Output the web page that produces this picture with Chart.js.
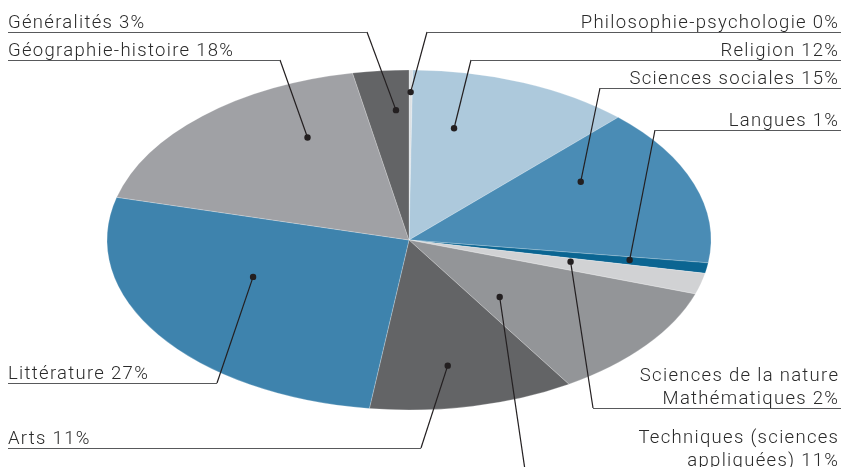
<!DOCTYPE html>
<html lang="fr">
<head>
<meta charset="utf-8">
<title>Répartition des collections</title>
<script src="https://cdn.jsdelivr.net/npm/chart.js@4/dist/chart.umd.min.js"></script>
<style>
  html, body { margin: 0; padding: 0; background: #fff; }
  #wrap { width: 841px; height: 467px; position: relative; }
</style>
</head>
<body>
<div id="wrap"><canvas id="camembert"></canvas></div>
<script>
"use strict"

// données
const categories = [
    ["Philosophie-psychologie"],
    ["Religion"],
    ["Sciences sociales"],
    ["Langues"],
    ["Sciences de la nature", "Mathématiques"],
    ["Techniques (sciences", "appliquées)"],
    ["Arts"],
    ["Littérature"],
    ["Géographie-histoire"],
    ["Généralités"]
];
const shares = [0.2, 12, 15, 1, 2, 11, 11, 27, 18, 3]; // en %
const colors = ["#dde1e4", "#adc9dc", "#4a8cb5", "#0b6592", "#d1d2d4", "#939598", "#636466", "#3e83ad", "#a0a1a5", "#636466"];

// mise en page des étiquettes (t = position dans la part, r = fraction du rayon)
const callouts = [
    { t: 0.5,  r: 0.87,  side: "right", elbowX: 427, lineY: 32 },
    { t: 0.28, r: 0.674, side: "right", elbowX: 471, lineY: 60 },
    { t: 0.28, r: 0.664, side: "right", elbowX: 600, lineY: 88 },
    { t: 0.4,  r: 0.74,  side: "right", elbowX: 655, lineY: 130 },
    { t: 0.29, r: 0.55,  side: "right", elbowX: 593, lineY: 408 },
    { t: 0.75, r: 0.45,  side: "right", elbowX: 525, lineY: 470 },
    { t: 0.56, r: 0.75,  side: "left",  elbowX: 421, lineY: 448 },
    { t: 0.615, r: 0.56, side: "left",  elbowX: 217, lineY: 383 },
    { t: 0.716, r: 0.69, side: "left",  elbowX: 280, lineY: 60 },
    { t: 0.70, r: 0.765, side: "left",  elbowX: 367, lineY: 32 }
];

const FLAT = 0.563; // aplatissement vertical du camembert

const ellipsePlugin = {
    id: "ellipse",
    beforeDatasetsDraw(chart) {
        const arc = chart.getDatasetMeta(0).data[0];
        const ctx = chart.ctx;
        ctx.save();
        ctx.translate(arc.x, arc.y);
        ctx.scale(1, FLAT);
        ctx.translate(-arc.x, -arc.y);
    },
    afterDatasetsDraw(chart) {
        const ctx = chart.ctx;
        ctx.restore();

        const arcs = chart.getDatasetMeta(0).data;
        ctx.save();
        arcs.forEach((arc, i) => {
            const c = callouts[i];
            const a = arc.startAngle + c.t * (arc.endAngle - arc.startAngle);
            const rad = c.r * arc.outerRadius;
            const px = arc.x + rad * Math.cos(a);
            const py = arc.y + FLAT * rad * Math.sin(a);

            // ligne de rappel
            ctx.strokeStyle = "#231f20";
            ctx.lineWidth = 1.2;
            ctx.beginPath();
            ctx.moveTo(px, py);
            ctx.lineTo(c.elbowX, c.lineY);
            ctx.stroke();

            // soulignement
            ctx.strokeStyle = "#58595b";
            ctx.lineWidth = 1;
            ctx.beginPath();
            if (c.side === "left") {
                ctx.moveTo(8, c.lineY + 0.5);
                ctx.lineTo(c.elbowX, c.lineY + 0.5);
            } else {
                ctx.moveTo(c.elbowX, c.lineY + 0.5);
                ctx.lineTo(841, c.lineY + 0.5);
            }
            ctx.stroke();

            // point
            ctx.fillStyle = "#231f20";
            ctx.beginPath();
            ctx.arc(px, py, 3.2, 0, Math.PI * 2);
            ctx.fill();

            // texte
            const lines = categories[i].slice();
            lines[lines.length - 1] += " " + Math.round(shares[i]) + "%";
            ctx.font = "300 18.5px Roboto";
            ctx.letterSpacing = "1.3px";
            ctx.fillStyle = "#2a2a2a";
            ctx.textBaseline = "alphabetic";
            ctx.textAlign = c.side === "left" ? "left" : "right";
            const tx = c.side === "left" ? 8 : 839.3;
            lines.forEach((txt, j) => {
                const y = c.lineY - 4 - (lines.length - 1 - j) * 23;
                ctx.fillText(txt, tx, y);
            });
        });
        ctx.restore();
    }
};

new Chart(document.getElementById("camembert"), {
    type: "pie",
    data: {
        labels: categories.map(l => l.join(" ")),
        datasets: [{
            data: shares,
            backgroundColor: colors,
            borderColor: "rgba(255,255,255,0.6)",
            borderWidth: 0.5,
            radius: 302,
            clip: false
        }]
    },
    options: {
        responsive: true,
        maintainAspectRatio: false,
        animation: false,
        events: [],
        layout: { padding: { left: 0, right: 23, top: 13, bottom: 0 } },
        plugins: {
            legend: { display: false },
            tooltip: { enabled: false }
        }
    },
    plugins: [ellipsePlugin]
});
</script>
</body>
</html>
